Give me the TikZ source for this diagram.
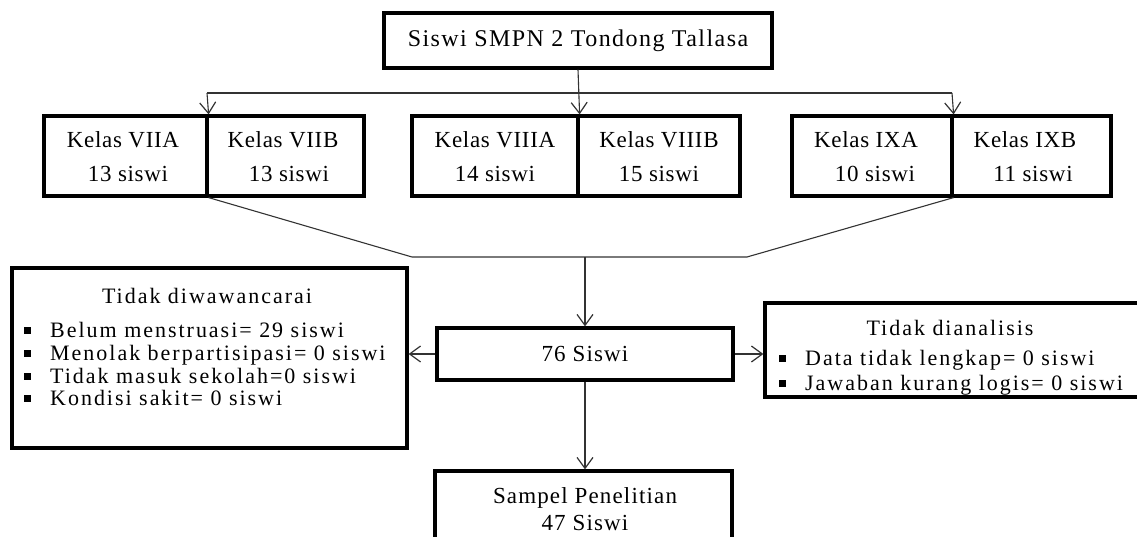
\documentclass[tikz,border=0pt]{standalone}
\usepackage{fontspec}
\setmainfont{Liberation Serif}[LetterSpace=5]
\newfontfamily\listfont{Liberation Serif}[LetterSpace=9]
\newfontfamily\topfont{Liberation Serif}[LetterSpace=6]
\newfontfamily\classfont{Liberation Serif}[LetterSpace=3]
\usetikzlibrary{arrows.meta}
\newcommand\bsq{\makebox[26pt][l]{\rule[3pt]{7pt}{7pt}}}
\begin{document}
\begin{tikzpicture}[x=1pt,y=-1pt,
  box/.style={draw, line width=3.2pt, rectangle, inner sep=0pt},
  conn/.style={line width=1.1pt, draw=black!80},
  arr/.style={conn, -{Straight Barb[length=11pt,width=16pt,line width=1.2pt]}},
  big/.style={font=\fontsize{23}{34}\selectfont, inner sep=0pt, anchor=base},
  cls/.style={big, font=\classfont\fontsize{23}{34}\selectfont},
  ttl/.style={big, font=\topfont\fontsize{24}{34}\selectfont},
  small/.style={font=\listfont\fontsize{22}{23}\selectfont, inner sep=0pt, anchor=base west},
]
\useasboundingbox (0,0) rectangle (1137,537);
% boxes
\node[box, minimum width=388pt, minimum height=55pt] (top) at (578,40.5) {};
\node[box, minimum width=163pt, minimum height=80pt] (c7a) at (125.5,156) {};
\node[box, minimum width=157pt, minimum height=80pt] (c7b) at (285.5,156) {};
\node[box, minimum width=166pt, minimum height=80pt] (c8a) at (495,156) {};
\node[box, minimum width=162pt, minimum height=80pt] (c8b) at (659,156) {};
\node[box, minimum width=160pt, minimum height=80pt] (c9a) at (872,156) {};
\node[box, minimum width=159pt, minimum height=80pt] (c9b) at (1031.5,156) {};
\node[box, minimum width=395pt, minimum height=180pt] (left) at (209.5,358) {};
\node[box, minimum width=296pt, minimum height=52pt] (mid) at (585,354) {};
\node[box, minimum width=375pt, minimum height=94pt] (right) at (952.5,350) {};
\node[box, minimum width=297pt, minimum height=80pt] (bot) at (583.5,511) {};
% texts
\node[ttl] (ttop) at (578,47) {Siswi SMPN 2 Tondong Tallasa};
\node[cls] (t7a1) at (123,148) {Kelas VIIA};
\node[cls] (t7a2) at (128,182) {13 siswi};
\node[cls] (t7b1) at (283,148) {Kelas VIIB};
\node[cls] (t7b2) at (289,182) {13 siswi};
\node[cls] (t8a1) at (495,148) {Kelas VIIIA};
\node[cls] (t8a2) at (495,182) {14 siswi};
\node[cls] (t8b1) at (659,148) {Kelas VIIIB};
\node[cls] (t8b2) at (659,182) {15 siswi};
\node[cls] (t9a1) at (866,148) {Kelas IXA};
\node[cls] (t9a2) at (875,182) {10 siswi};
\node[cls] (t9b1) at (1025,148) {Kelas IXB};
\node[cls] (t9b2) at (1033,182) {11 siswi};
\node[big] (tmid) at (585,361) {76 Siswi};
\node[big] (tbot1) at (585,503) {Sampel Penelitian};
\node[big] (tbot2) at (585,530) {47 Siswi};
\node[small, anchor=base] (tl0) at (207,303) {Tidak diwawancarai};
\node[small] (tl1) at (24,337) {\bsq Belum menstruasi= 29 siswi};
\node[small] (tl2) at (24,360) {\bsq Menolak berpartisipasi= 0 siswi};
\node[small] (tl3) at (24,383) {\bsq Tidak masuk sekolah=0 siswi};
\node[small] (tl4) at (24,405) {\bsq Kondisi sakit= 0 siswi};
\node[small, anchor=base] (tr0) at (950,335) {Tidak dianalisis};
\node[small] (tr1) at (779,365) {\bsq Data tidak lengkap= 0 siswi};
\node[small] (tr2) at (779,390) {\bsq Jawaban kurang logis= 0 siswi};
% connectors
\coordinate (hl) at (207,93);
\coordinate (hr) at (952,93);
\coordinate (jl) at (412,257);
\coordinate (jr) at (747,257);
\coordinate (jm) at (585,257);
\draw[conn] (hl) -- (hr);
\draw[arr] (top.south) -- (c8a.north east);
\draw[arr] (hl) -- (c7a.north east);
\draw[arr] (hr) -- (c9a.north east);
\draw[conn] (c7a.south east) -- (jl) -- (jr) -- (c9a.south east);
\draw[arr] (jm) -- (mid.north);
\draw[arr] (mid.west) -- (left.east |- mid.west);
\draw[arr] (mid.east) -- (right.west |- mid.east);
\draw[arr] (mid.south) -- (bot.north -| mid.south);
\end{tikzpicture}
\end{document}
